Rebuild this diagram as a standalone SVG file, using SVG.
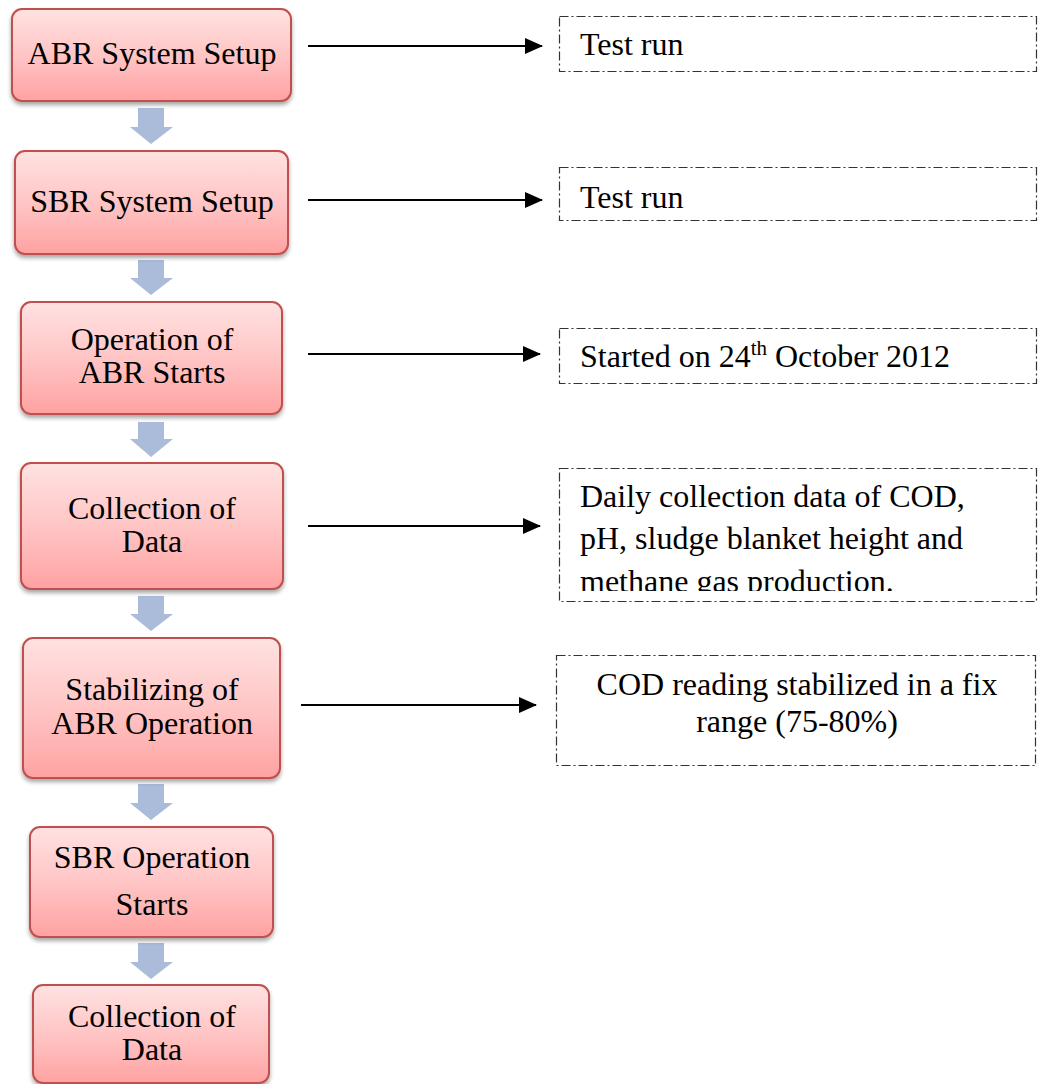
<svg xmlns="http://www.w3.org/2000/svg" width="1038" height="1084" viewBox="0 0 1038 1084">
<defs>
<linearGradient id="pink" x1="0" y1="0" x2="0" y2="1">
<stop offset="0" stop-color="#FFE2E2"/>
<stop offset="0.55" stop-color="#FFC2C2"/>
<stop offset="1" stop-color="#FFA2A2"/>
</linearGradient>
<filter id="sh" x="-10%" y="-10%" width="120%" height="130%">
<feDropShadow dx="0" dy="3" stdDeviation="2.2" flood-color="#000" flood-opacity="0.35"/>
</filter>
<marker id="ah" viewBox="0 0 18 16" refX="17" refY="8" markerWidth="18" markerHeight="16" markerUnits="userSpaceOnUse" orient="auto">
<path d="M0,0 L18,8 L0,16 Z" fill="#000"/>
</marker>
<clipPath id="clip4"><rect x="560" y="468" width="478" height="123"/></clipPath>
</defs>
<style>
.node rect{fill:url(#pink);stroke:#C0504D;stroke-width:2;filter:url(#sh)}
text{font-family:"Liberation Serif","Times New Roman",serif;font-size:32px;fill:#000}
.c{text-anchor:middle}
.box{fill:#fff;stroke:#333;stroke-width:1.2;stroke-dasharray:9 3 2 3}
.line{stroke:#000;stroke-width:2.2;fill:none;marker-end:url(#ah)}
.blk{fill:#AABCDA}
</style>
<rect width="1038" height="1084" fill="#fff"/>

<g id="connectors">
<path class="blk" d="M138,108 H164 V127 H173 L151,144 L130,127 H138 Z"/>
<path class="blk" d="M138,260 H164 V278 H173 L151,295 L130,278 H138 Z"/>
<path class="blk" d="M138,422 H164 V439 H173 L151,457 L130,439 H138 Z"/>
<path class="blk" d="M138,596 H164 V614 H173 L151,631 L130,614 H138 Z"/>
<path class="blk" d="M138,784 H164 V803 H173 L151,820 L130,803 H138 Z"/>
<path class="blk" d="M138,943 H164 V962 H173 L151,979 L130,962 H138 Z"/>
<line class="line" x1="308" y1="46" x2="542" y2="46"/>
<line class="line" x1="308" y1="200" x2="542" y2="200"/>
<line class="line" x1="308" y1="354" x2="540" y2="354"/>
<line class="line" x1="308" y1="526" x2="540" y2="526"/>
<line class="line" x1="301" y1="705" x2="536" y2="705"/>
</g>

<g id="n1" class="node">
<rect x="12" y="9" width="279" height="92" rx="10"/>
<text class="c" x="152" y="64">ABR System Setup</text>
</g>
<g id="n2" class="node">
<rect x="15" y="151" width="273" height="103" rx="10"/>
<text class="c" x="152" y="212">SBR System Setup</text>
</g>
<g id="n3" class="node">
<rect x="21" y="302" width="261" height="112" rx="10"/>
<text class="c" x="152" y="350">Operation of</text>
<text class="c" x="152" y="383">ABR Starts</text>
</g>
<g id="n4" class="node">
<rect x="21" y="463" width="262" height="126" rx="10"/>
<text class="c" x="152" y="519">Collection of</text>
<text class="c" x="152" y="552">Data</text>
</g>
<g id="n5" class="node">
<rect x="23" y="638" width="257" height="140" rx="10"/>
<text class="c" x="152" y="700">Stabilizing of</text>
<text class="c" x="152" y="734">ABR Operation</text>
</g>
<g id="n6" class="node">
<rect x="30" y="827" width="243" height="110" rx="10"/>
<text class="c" x="152" y="868">SBR Operation</text>
<text class="c" x="152" y="915">Starts</text>
</g>
<g id="n7" class="node">
<rect x="33" y="985" width="236" height="98" rx="10"/>
<text class="c" x="152" y="1027">Collection of</text>
<text class="c" x="152" y="1060">Data</text>
</g>

<g id="b1">
<rect class="box" x="559.5" y="16.5" width="477" height="55"/>
<text x="580" y="55">Test run</text>
</g>
<g id="b2">
<rect class="box" x="559.5" y="167.5" width="477" height="53"/>
<text x="580" y="208">Test run</text>
</g>
<g id="b3">
<rect class="box" x="559.5" y="328.5" width="477" height="55"/>
<text x="580" y="367">Started on 24<tspan font-size="21" dy="-12">th</tspan><tspan dy="12"> October 2012</tspan></text>
</g>
<g id="b4">
<rect class="box" x="559.5" y="468.5" width="477" height="133"/>
<g clip-path="url(#clip4)">
<text x="580" y="507">Daily collection data of COD,</text>
<text x="580" y="549">pH, sludge blanket height and</text>
<text x="580" y="592">methane gas production.</text>
</g>
</g>
<g id="b5">
<rect class="box" x="556.5" y="655.5" width="479" height="110"/>
<text class="c" x="797" y="695">COD reading stabilized in a fix</text>
<text class="c" x="797" y="732">range (75-80%)</text>
</g>
</svg>
